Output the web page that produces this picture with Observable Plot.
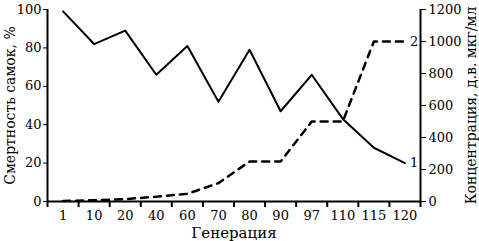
<!DOCTYPE html>
<html><head><meta charset="utf-8">
<script src="https://cdn.jsdelivr.net/npm/d3@7"></script>
<script src="https://cdn.jsdelivr.net/npm/@observablehq/plot@0.6"></script>
<style>body{margin:0;background:#fff}</style>
</head><body><div id="chart"></div>
<script>
const generations = ["1","10","20","40","60","70","80","90","97","110","115","120"];
const mortality = [99,82,89,66,81,52,79,47,66,43,28,20];
const concentration = [3,8,15,30,48,115,250,250,500,500,1000,1000];
const leftTicks = [0,20,40,60,80,100];
const rightTicks = [0,200,400,600,800,1000,1200];
const seriesLabels = ["1","2"];
const xTitle = "Генерация";
const leftTitle = "Смертность самок, %";
const rightTitle = "Концентрация, д.в. мкг/мл";
const leftMax = 100, rightMax = 1200;
const k = leftMax / rightMax;
const rows = generations.map((g, i) => ({i, g, m: mortality[i], c: concentration[i] * k}));
const last = rows[rows.length - 1];
const n = generations.length;
const FF = "'DejaVu Serif', 'Liberation Serif', serif";
const chart = Plot.plot({
  width: 479, height: 241, marginLeft: 47, marginRight: 59, marginTop: 9, marginBottom: 40,
  style: {fontSize: "13px", color: "#000", background: "#fff"},
  x: {type: "linear", domain: [-0.5, n - 0.5]},
  y: {domain: [0, leftMax]},
  marks: [
    Plot.axisY({anchor: "left", ticks: leftTicks, tickSize: 4, tickPadding: 2, label: null, fontSize: 13, fontFamily: FF}),
    Plot.axisY({anchor: "right", ticks: rightTicks.map(v => v * k), tickFormat: v => String(Math.round(v / k)), tickSize: 5, tickPadding: 3, label: null, fontSize: 13, fontFamily: FF}),
    Plot.axisX({ticks: d3.range(n), tickSize: 0, tickPadding: 9, tickFormat: i => generations[i], label: null, fontSize: 13, fontFamily: FF}),
    Plot.axisX({ticks: d3.range(-0.5, n, 1), tickSize: 6, tickFormat: () => "", label: null, strokeWidth: 2}),
    Plot.ruleY([0], {strokeWidth: 2}),
    Plot.ruleX([-0.5, n - 0.5], {strokeWidth: 2}),
    Plot.line(rows, {x: "i", y: "m", stroke: "#000", strokeWidth: 2}),
    Plot.line(rows, {x: "i", y: "c", stroke: "#000", strokeWidth: 2.5, strokeDasharray: "7,6"}),
    Plot.text([last], {x: "i", y: "m", text: () => seriesLabels[0], dx: 5, textAnchor: "start", fontSize: 13, fontFamily: FF}),
    Plot.text([last], {x: "i", y: "c", text: () => seriesLabels[1], dx: 5, textAnchor: "start", fontSize: 13, fontFamily: FF}),
    Plot.text([xTitle], {text: d => d, frameAnchor: "bottom", lineAnchor: "middle", textAnchor: "middle", dy: 32, fontSize: 15, fontFamily: FF}),
    Plot.text([leftTitle], {text: d => d, frameAnchor: "left", rotate: -90, textAnchor: "middle", lineAnchor: "middle", dx: -37, fontSize: 14, fontFamily: FF}),
    Plot.text([rightTitle], {text: d => d, frameAnchor: "right", rotate: -90, textAnchor: "middle", lineAnchor: "middle", dx: 51, fontSize: 14, fontFamily: FF})
  ]
});
document.getElementById("chart").append(chart);
</script>
</body></html>
